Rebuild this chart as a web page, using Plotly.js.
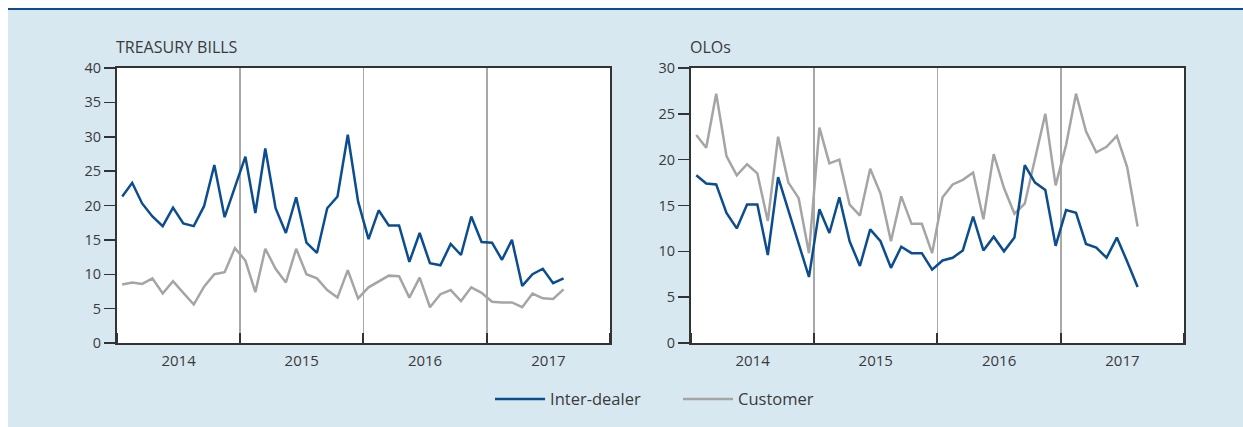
<!DOCTYPE html>
<html>
<head>
<meta charset="utf-8">
<script src="https://cdn.plot.ly/plotly-3.0.1.min.js"></script>
<style>
  html, body { margin: 0; padding: 0; background: #ffffff; width: 1243px; height: 427px; overflow: hidden; }
  #topline { position: absolute; left: 8px; top: 8px; width: 1235px; height: 2px; background: #0b4d8f; }
  #chart { position: absolute; left: 8px; top: 10px; width: 1235px; height: 417px; }
</style>
</head>
<body>
<div id="topline"></div>
<div id="chart"></div>
<script>
// Monthly observations, Jan 2014 - Aug 2017
const months = [
  "2014-01","2014-02","2014-03","2014-04","2014-05","2014-06","2014-07","2014-08","2014-09","2014-10","2014-11","2014-12",
  "2015-01","2015-02","2015-03","2015-04","2015-05","2015-06","2015-07","2015-08","2015-09","2015-10","2015-11","2015-12",
  "2016-01","2016-02","2016-03","2016-04","2016-05","2016-06","2016-07","2016-08","2016-09","2016-10","2016-11","2016-12",
  "2017-01","2017-02","2017-03","2017-04","2017-05","2017-06","2017-07","2017-08"
];

// TREASURY BILLS
const tbInterDealer = [
  21.3, 23.3, 20.3, 18.4, 17.0, 19.7, 17.4, 17.0, 19.9, 25.9, 18.3, 22.7,
  27.1, 18.9, 28.3, 19.6, 16.0, 21.2, 14.6, 13.1, 19.6, 21.3, 30.3, 20.6,
  15.1, 19.3, 17.1, 17.1, 11.8, 16.0, 11.6, 11.3, 14.4, 12.8, 18.4, 14.7,
  14.6, 12.1, 15.0, 8.3, 10.0, 10.8, 8.7, 9.4
];
const tbCustomer = [
  8.5, 8.8, 8.6, 9.4, 7.2, 9.0, 7.3, 5.6, 8.2, 10.0, 10.3, 13.8,
  12.0, 7.4, 13.7, 10.8, 8.8, 13.7, 10.0, 9.4, 7.7, 6.6, 10.6, 6.5,
  8.1, 8.9, 9.8, 9.7, 6.6, 9.5, 5.2, 7.1, 7.7, 6.1, 8.1, 7.3,
  6.0, 5.9, 5.9, 5.2, 7.2, 6.5, 6.4, 7.8
];

// OLOs
const oloInterDealer = [
  18.3, 17.4, 17.3, 14.2, 12.5, 15.1, 15.1, 9.6, 18.1, 14.4, 10.8, 7.2,
  14.6, 12.0, 15.9, 11.1, 8.4, 12.4, 11.1, 8.2, 10.5, 9.8, 9.8, 8.0,
  9.0, 9.3, 10.1, 13.8, 10.1, 11.6, 10.0, 11.5, 19.4, 17.5, 16.7, 10.6,
  14.5, 14.2, 10.8, 10.4, 9.3, 11.5, 8.9, 6.1
];
const oloCustomer = [
  22.7, 21.3, 27.2, 20.4, 18.3, 19.5, 18.5, 13.3, 22.5, 17.5, 15.8, 9.8,
  23.5, 19.6, 20.0, 15.1, 13.9, 19.0, 16.3, 11.1, 16.0, 13.0, 13.0, 9.8,
  15.9, 17.3, 17.8, 18.6, 13.5, 20.6, 16.9, 14.1, 15.2, 20.0, 25.0, 17.2,
  21.6, 27.2, 23.1, 20.8, 21.4, 22.6, 19.2, 12.7
];

const seriesNames = ["Inter-dealer", "Customer"];
const panelTitles = ["TREASURY BILLS", "OLOs"];
const blue = "#0b4d8f";
const grey = "#a5a5a5";
const textColor = "#3a3a3a";
const FONT = "Open Sans, sans-serif";

function trace(y, name, color, xa, ya, show) {
  return {
    x: months, y: y, name: name, type: "scatter", mode: "lines",
    xperiod: "M1", xperiodalignment: "middle",
    line: { color: color, width: 2.5 },
    xaxis: xa, yaxis: ya, showlegend: show, hoverinfo: "x+y"
  };
}

const data = [
  trace(tbCustomer, seriesNames[1], grey, "x", "y", false),
  trace(tbInterDealer, seriesNames[0], blue, "x", "y", true),
  trace(oloCustomer, seriesNames[1], grey, "x2", "y2", true),
  trace(oloInterDealer, seriesNames[0], blue, "x2", "y2", false)
];

function xaxis(domain, anchor) {
  return {
    domain: domain, anchor: anchor, type: "date",
    range: ["2014-01-01", "2018-01-01"],
    tick0: "2014-01-01", dtick: "M12", tickformat: "%Y",
    ticklabelmode: "period",
    ticks: "inside", ticklen: 10, tickwidth: 2, tickcolor: "#333",
    showgrid: true, gridcolor: "#a8a8a8", gridwidth: 1.5,
    showline: true, mirror: true, linecolor: "#333", linewidth: 2,
    zeroline: false, ticklabelstandoff: 3,
    tickfont: { family: FONT, size: 15, color: textColor }
  };
}
function yaxis(max, anchor) {
  return {
    domain: [0, 1], anchor: anchor, range: [0, max], dtick: 5,
    ticks: "outside", ticklen: 11, tickwidth: 1.5, tickcolor: "#333",
    showgrid: false, zeroline: false,
    showline: true, mirror: true, linecolor: "#333", linewidth: 2,
    tickfont: { family: FONT, size: 14.5, color: textColor }
  };
}

const layout = {
  width: 1235, height: 417,
  margin: { l: 109, r: 59, t: 58, b: 83 },
  paper_bgcolor: "#d8e8f1",
  plot_bgcolor: "#ffffff",
  font: { family: FONT, color: textColor },
  xaxis: xaxis([0, 0.4620], "y"),
  yaxis: yaxis(40, "x"),
  xaxis2: xaxis([0.5380, 1], "y2"),
  yaxis2: yaxis(30, "x2"),
  showlegend: true,
  legend: {
    orientation: "h", x: 0.3496, xanchor: "left", y: -0.2, yanchor: "middle",
    bgcolor: "rgba(0,0,0,0)", font: { family: FONT, size: 16.5, color: textColor },
    traceorder: "normal", itemwidth: 50, entrywidth: 123
  },
  annotations: [
    { text: panelTitles[0], xref: "x domain", yref: "y domain", x: 0, y: 1,
      xanchor: "left", yanchor: "bottom", yshift: 8, xshift: -3, showarrow: false,
      font: { family: FONT, size: 16, color: textColor } },
    { text: panelTitles[1], xref: "x2 domain", yref: "y2 domain", x: 0, y: 1,
      xanchor: "left", yanchor: "bottom", yshift: 8, xshift: -3, showarrow: false,
      font: { family: FONT, size: 16, color: textColor } }
  ]
};

Plotly.newPlot("chart", data, layout, { displayModeBar: false, staticPlot: true });
</script>
</body>
</html>
